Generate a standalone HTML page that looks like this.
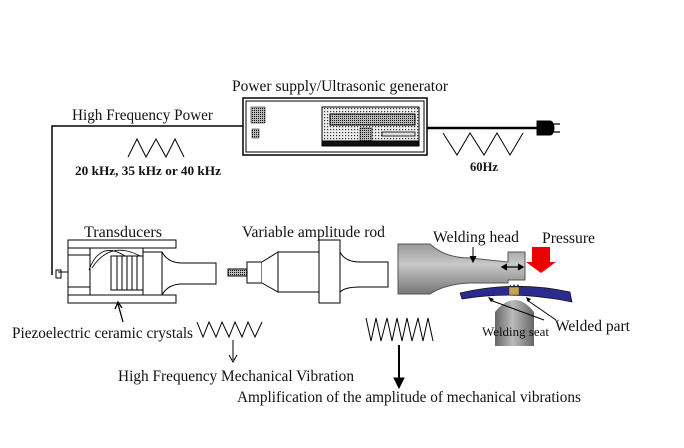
<!DOCTYPE html><html><head><style>body{margin:0;background:#fff}svg{display:block}text{font-family:"Liberation Serif",serif;fill:#111}</style></head><body>
<svg width="684" height="448" viewBox="0 0 684 448">
<defs><pattern id="dot" width="3" height="3" patternUnits="userSpaceOnUse"><rect width="3" height="3" fill="#eee"/><rect width="1.2" height="1.2" fill="#333"/></pattern>
<pattern id="dk" width="2" height="2" patternUnits="userSpaceOnUse"><rect width="2" height="2" fill="#bbb"/><rect width="1" height="1" fill="#111"/></pattern>
<linearGradient id="g" x1="0" y1="0" x2="0" y2="1"><stop offset="0" stop-color="#999"/><stop offset=".4" stop-color="#c8c8c8"/><stop offset="1" stop-color="#777"/></linearGradient>
<linearGradient id="gs" x1="0" y1="0" x2="1" y2="0"><stop offset="0" stop-color="#666"/><stop offset=".45" stop-color="#bbb"/><stop offset="1" stop-color="#666"/></linearGradient></defs>
<g stroke="#000" fill="none">
<path d="M52 275V126H243" stroke-width="1.5"/>
<path d="M427 128H537" stroke-width="2.5"/>
<rect x="243" y="98" width="184" height="57" fill="#fff" stroke-width="1.5"/>
<rect x="246" y="101" width="178" height="51" stroke-width="1"/>
<rect x="251" y="107" width="14" height="16" fill="url(#dk)" stroke-width=".5"/>
<rect x="252" y="129" width="7" height="9" fill="url(#dk)" stroke-width=".5"/>
<rect x="322" y="107" width="97" height="39" fill="url(#dot)" stroke-width="1"/>
<rect x="330" y="114" width="85" height="11" fill="url(#dk)" stroke-width="1"/>
<rect x="360" y="128" width="12" height="18" fill="url(#dk)" stroke-width=".5"/>
<rect x="382" y="132" width="33" height="4" fill="#ddd" stroke-width=".8"/>
<rect x="323" y="141" width="95" height="5" fill="#111"/>
<path d="M537 121h13a4 7 0 0 1 0 14h-13z" fill="#000"/>
<path d="M552 124h8M552 132h8" stroke-width="1.2"/>
<path d="M128 157L137 139L146 157L156 139L166 157L175 139L184 157"/>
<path d="M443 133L457 155L470 133L484 155L497 133L510 155L523 133"/>
<path d="M197 322L203 337L209 322L216 337L222 322L229 337L235 322L242 337L248 322L255 337L262 322"/>
<path d="M366 318L371 341L376 318L381 341L387 318L392 341L397 318L402 341L407 318L412 341L418 318L423 341L428 318L433 341"/>
<path d="M233 340V360M229 355L233 362L237 355"/>
<path d="M399 345V382" stroke-width="2"/><path d="M394 378L399 388L404 378z" fill="#000"/>
<rect x="68" y="240" width="108" height="8" fill="#fff"/>
<rect x="68" y="295" width="108" height="8" fill="#fff"/>
<rect x="68" y="248" width="22" height="47" fill="#fff"/>
<path d="M68 255H90M68 287H90"/>
<rect x="90" y="248" width="53" height="47" fill="#fff"/>
<rect x="111" y="256" width="32" height="34" fill="#fff"/>
<path d="M117 256V290M122 256V290M127 256V290M132 256V290M137 256V290"/>
<path d="M89 270Q100 240 125 256M92 268Q110 240 140 256" stroke-width=".8"/>
<rect x="143" y="252" width="19" height="43" fill="#fff"/>
<path d="M162 252Q168 263 182 263H216V284H182Q168 284 162 295"/>
<path d="M68 272H58M56 270h5v8h-5z" stroke-width="1"/>
<path d="M123 322L118 304M115 309L118 302L122 308" stroke-width="1.3"/>
<rect x="228" y="269" width="19" height="7" fill="url(#dk)"/>
<rect x="247" y="262" width="15" height="21" fill="#fff"/>
<path d="M262 262L278 252V292L262 283" fill="#fff"/>
<rect x="278" y="252" width="41" height="40" fill="#fff"/>
<rect x="319" y="240" width="21" height="63" fill="#fff"/>
<path d="M340 252Q345 262 360 262H388V287H360Q345 287 340 292"/>
</g>
<path d="M398 244H430Q445 258 470 258L508 262V252H525V280H508V283Q490 283 470 283Q445 284 430 294H398z" fill="url(#g)" stroke="#555"/>
<path d="M473 247V260M470 256L473 262L476 256" stroke="#000"/>
<path d="M503 267H522M507 264L502 267L507 270M518 264L523 267L518 270" stroke="#000" stroke-width="1.3"/>
<path d="M510 285l2 3 2-3 2 3 2-3 2 3" stroke="#333" fill="none"/>
<path d="M532 247H550V262H556L541 273L526 262H532z" fill="#e00"/>
<path d="M495 346V312Q515 288 534 312V346z" fill="url(#gs)"/>
<path d="M460 293Q515 280 570 292L572 302Q515 290 462 299z" fill="#2b2b8f" stroke="#111" stroke-width=".7"/>
<rect x="509" y="287" width="10" height="8" fill="#c9a54a" stroke="#333" stroke-width=".5"/>
<path d="M490 300L544 320M556 320L527 300" stroke="#000"/>
<path d="M488 297l3 5 3-3z" fill="#000"/><path d="M526 297l2 5 3-3z" fill="#000"/>
<g font-size="15.5">
<text x="232" y="91" textLength="216" lengthAdjust="spacingAndGlyphs">Power supply/Ultrasonic generator</text>
<text x="72" y="120" textLength="141" lengthAdjust="spacingAndGlyphs">High Frequency Power</text>
<text x="84" y="237" textLength="78" lengthAdjust="spacingAndGlyphs">Transducers</text>
<text x="242" y="237" textLength="143" lengthAdjust="spacingAndGlyphs">Variable amplitude rod</text>
<text x="433" y="242" textLength="86" lengthAdjust="spacingAndGlyphs">Welding head</text>
<text x="542" y="243" textLength="53" lengthAdjust="spacingAndGlyphs">Pressure</text>
<text x="12" y="338" textLength="181" lengthAdjust="spacingAndGlyphs">Piezoelectric ceramic crystals</text>
<text x="555" y="331" textLength="75" lengthAdjust="spacingAndGlyphs">Welded part</text>
<text x="118" y="381" textLength="236" lengthAdjust="spacingAndGlyphs">High Frequency Mechanical Vibration</text>
<text x="237" y="402" textLength="344" lengthAdjust="spacingAndGlyphs">Amplification of the amplitude of mechanical vibrations</text>
</g>
<text x="482" y="336" font-size="13" textLength="67" lengthAdjust="spacingAndGlyphs">Welding seat</text>
<text x="75" y="175" font-size="13" font-weight="bold" textLength="146" lengthAdjust="spacingAndGlyphs">20 kHz, 35 kHz or 40 kHz</text>
<text x="470" y="171" font-size="12.5" font-weight="bold" textLength="28" lengthAdjust="spacingAndGlyphs">60Hz</text>
</svg></body></html>
